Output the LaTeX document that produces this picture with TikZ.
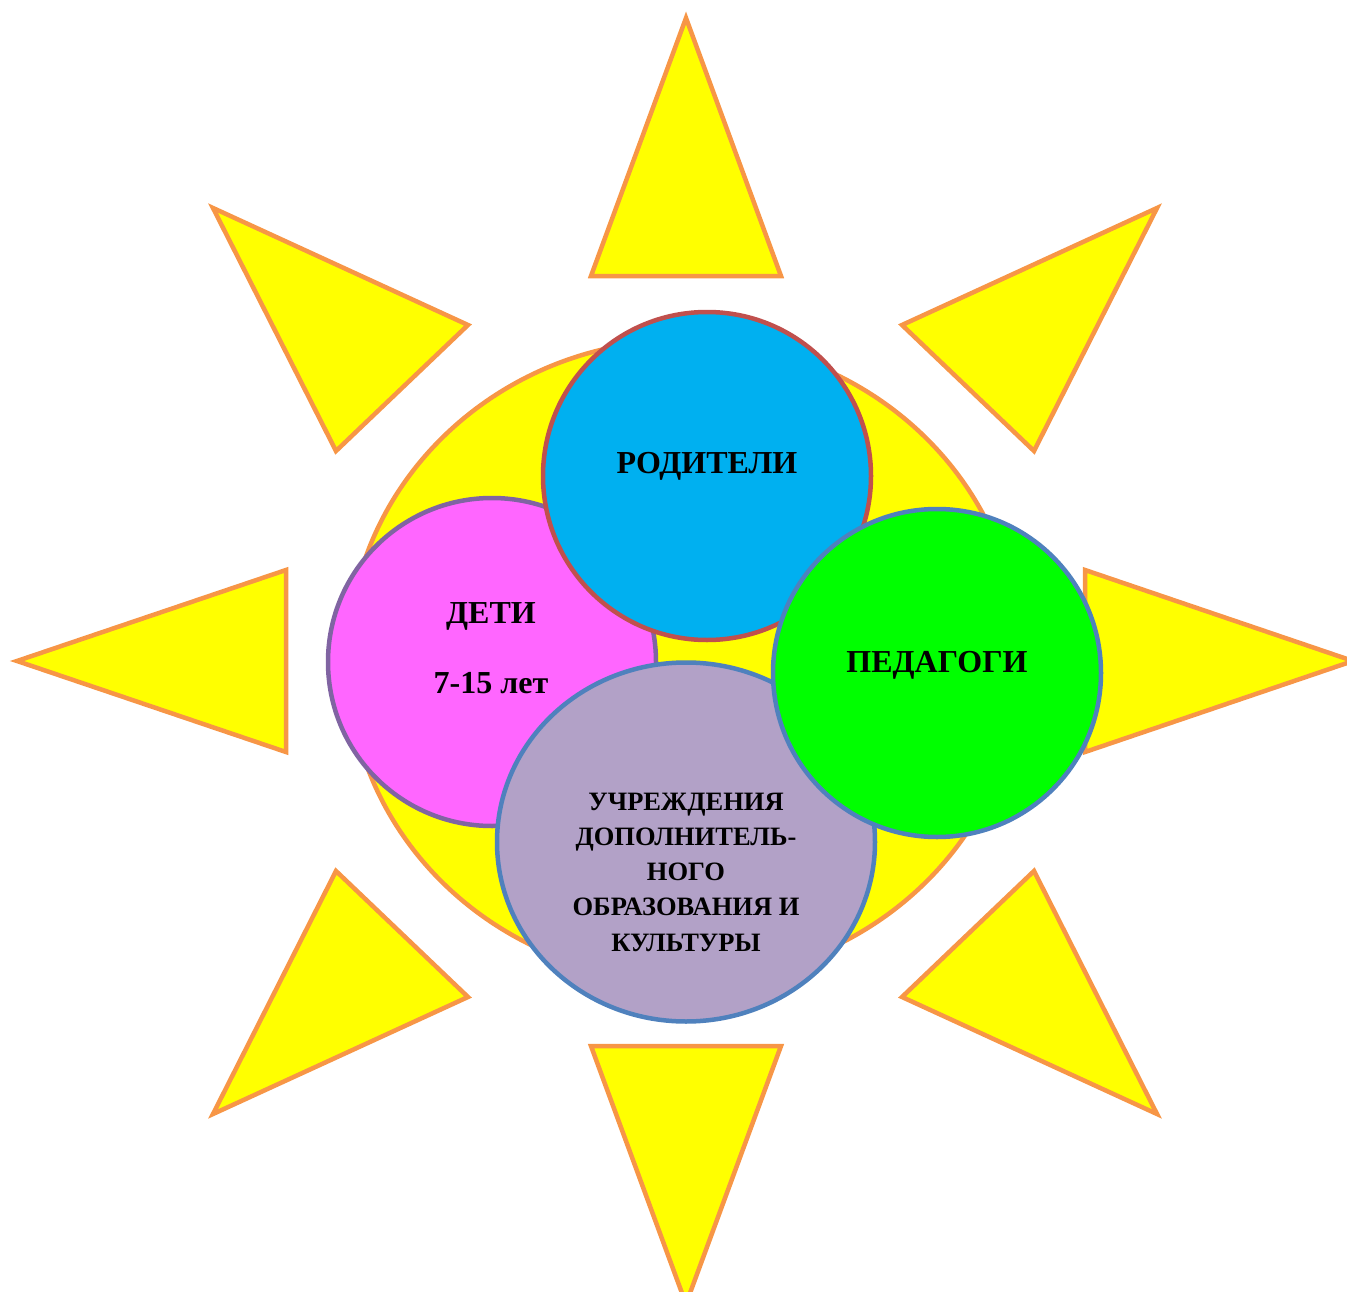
\documentclass[tikz,border=0pt]{standalone}
\usepackage{fontspec}
\setmainfont{Liberation Serif}
\usetikzlibrary{shapes.geometric}
\definecolor{sunfill}{HTML}{FFFF00}
\definecolor{sunline}{HTML}{F79646}
\definecolor{pinkfill}{HTML}{FF66FF}
\definecolor{pinkline}{HTML}{8064A2}
\definecolor{bluefill}{HTML}{00B0F0}
\definecolor{blueline}{HTML}{C0504D}
\definecolor{greenfill}{HTML}{00FF00}
\definecolor{accentline}{HTML}{4F81BD}
\definecolor{lavfill}{HTML}{B2A1C7}
\tikzset{
  ray/.style={draw=sunline, fill=sunfill, line width=4.5pt, line join=miter},
  disc/.style={circle, line width=4.5pt, minimum size=328pt, inner sep=0pt},
  bigtxt/.style={font=\bfseries\fontsize{32}{36}\selectfont, inner sep=0pt, anchor=base},
  smalltxt/.style={font=\bfseries\fontsize{26.5}{35.25}\selectfont, inner sep=0pt, align=center}
}
\begin{document}
\begin{tikzpicture}[x=1pt,y=-1pt]
\useasboundingbox (0,0) rectangle (1347,1292);
\clip (0,0) rectangle (1347,1292);
% rays
\draw[ray] (686,18) -- (591,276) -- (781,276) -- cycle;
\draw[ray] (686,1304) -- (591,1046) -- (781,1046) -- cycle;
\draw[ray] (17,661) -- (286,570) -- (286,752) -- cycle;
\draw[ray] (1353,661) -- (1085,570) -- (1085,752) -- cycle;
\draw[ray] (213,208) -- (468,325) -- (336,451) -- cycle;
\draw[ray] (1157,208) -- (902,325) -- (1034,451) -- cycle;
\draw[ray] (213,1114) -- (468,997) -- (336,871) -- cycle;
\draw[ray] (1157,1114) -- (902,997) -- (1034,871) -- cycle;
% sun body
\node (sun) [ellipse, draw=sunline, fill=sunfill, line width=4.5pt, minimum width=672pt, minimum height=640pt, inner sep=0pt] at (684,660) {};
% circles
\node (deti) [disc, draw=pinkline, fill=pinkfill] at (492,662) {};
\node (roditeli) [disc, draw=blueline, fill=bluefill] at (707,476) {};
\node (uchr) [ellipse, line width=4.5pt, draw=accentline, fill=lavfill, minimum width=378pt, minimum height=359pt, inner sep=0pt] at (686,842) {};
\node (pedagogi) [disc, draw=accentline, fill=greenfill] at (937,673) {};
% texts
\node (troditeli) [bigtxt] at (707,473) {РОДИТЕЛИ};
\node (tdeti) [bigtxt] at (491,623) {ДЕТИ};
\node (tage) [bigtxt] at (491,693) {7-15 лет};
\node (tpedagogi) [bigtxt] at (937,672) {ПЕДАГОГИ};
\node (tuchr) [smalltxt] at (686,872) {УЧРЕЖДЕНИЯ\\ДОПОЛНИТЕЛЬ-\\НОГО\\ОБРАЗОВАНИЯ И\\КУЛЬТУРЫ};
\end{tikzpicture}
\end{document}
